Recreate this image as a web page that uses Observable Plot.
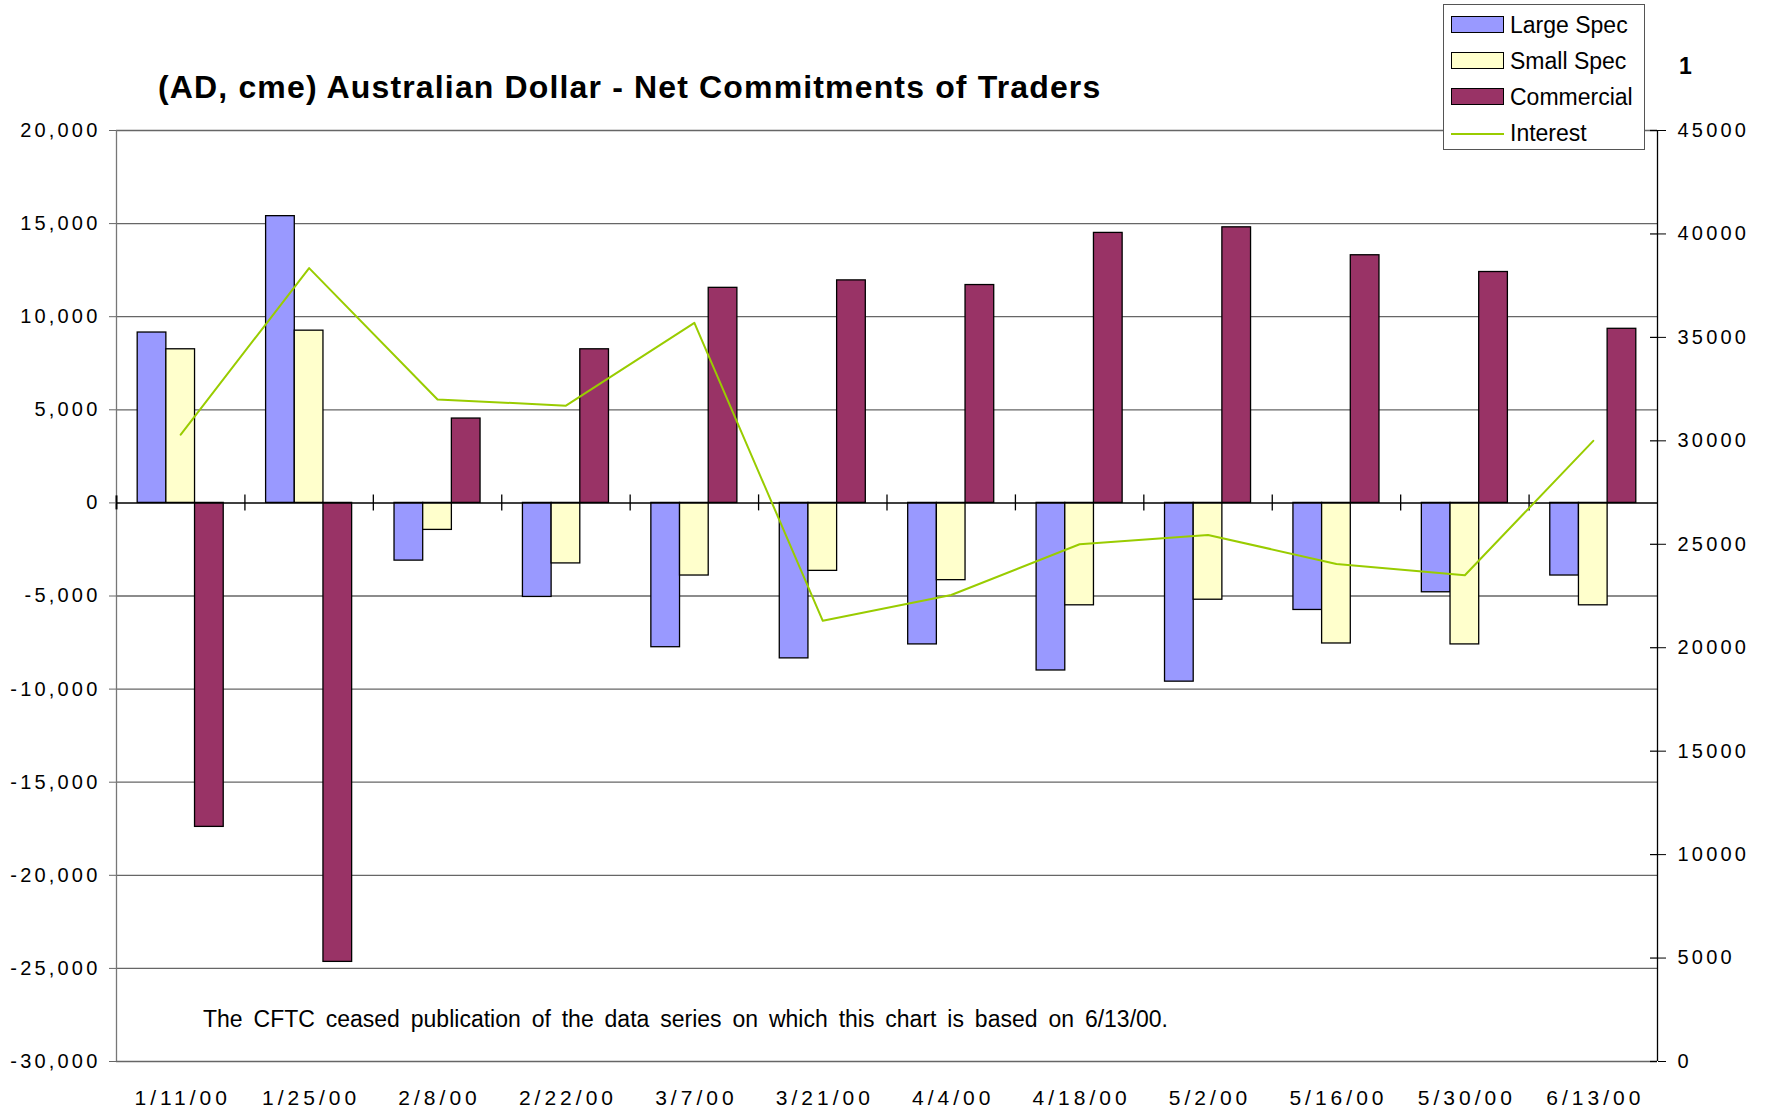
<!DOCTYPE html>
<html>
<head>
<meta charset="utf-8">
<script src="https://cdn.jsdelivr.net/npm/d3@7"></script>
<script src="https://cdn.jsdelivr.net/npm/@observablehq/plot@0.6"></script>
<style>
  html, body { margin: 0; padding: 0; background: #fff; }
  #wrap { position: relative; width: 1771px; height: 1114px; overflow: hidden; background: #fff; font-family: "Liberation Sans", Arial, sans-serif; }
  #wrap svg { position: absolute; left: 0; top: 0; }
  .title { position: absolute; left: 158px; top: 71px; font-size: 32px; line-height: 32px; font-weight: bold; letter-spacing: 1.15px; white-space: nowrap; color: #000; }
  .pagenum { position: absolute; left: 1679px; top: 55px; font-size: 23px; line-height: 23px; font-weight: bold; color: #000; }
  .note { position: absolute; left: 203px; top: 1008px; font-size: 23px; line-height: 23px; word-spacing: 4.5px; white-space: nowrap; color: #000; }
  .legend { position: absolute; left: 1443px; top: 4px; width: 200px; height: 144px; border: 1px solid #555; background: #fff; }
  .legend .row { position: absolute; left: 0; height: 23px; width: 200px; }
  .legend .sw { position: absolute; left: 7px; width: 51px; height: 15px; border: 1px solid #000; }
  .legend .ln { position: absolute; left: 7px; width: 53px; height: 0; border-top: 2px solid #99CC00; }
  .legend .lab { position: absolute; left: 66px; top: 0; font-size: 23px; line-height: 23px; white-space: nowrap; color: #000; }
  g[aria-label="y-axis tick label"] { letter-spacing: 3.2px; }
  g[aria-label="x-axis tick label"] { letter-spacing: 4px; }
</style>
</head>
<body>
<div id="wrap"></div>
<script>
// ---- data ----
const dates = ["1/11/00","1/25/00","2/8/00","2/22/00","3/7/00","3/21/00","4/4/00","4/18/00","5/2/00","5/16/00","5/30/00","6/13/00"];
const seriesNames = ["Large Spec", "Small Spec", "Commercial"];
const largeSpec  = [9150, 15400, -3100, -5050, -7750, -8350, -7600, -9000, -9600, -5750, -4800, -3900];
const smallSpec  = [8250, 9250, -1450, -3250, -3900, -3650, -4150, -5500, -5200, -7550, -7600, -5500];
const commercial = [-17400, -24650, 4530, 8250, 11550, 11950, 11700, 14500, 14800, 13300, 12400, 9350];
const interest   = [30300, 38350, 32000, 31700, 35700, 21300, 22550, 25000, 25450, 24050, 23500, 30000];
const leftTicks  = [-30000, -25000, -20000, -15000, -10000, -5000, 0, 5000, 10000, 15000, 20000];
const rightTicks = [0, 5000, 10000, 15000, 20000, 25000, 30000, 35000, 40000, 45000];

// ---- styles ----
const seriesColors = ["#9999FF", "#FFFFCC", "#993366"];
const lineColor = "#99CC00";
const groupGap = 0.165;   // fraction of a category left empty on each side
const barFrac = 0.2233;   // fraction of a category per bar

// left scale [-30000, 20000] <-> right scale [0, 45000]
const L0 = -30000, L1 = 20000, R1 = 45000;
const toLeft = v => L0 + v * (L1 - L0) / R1;
const fromLeft = v => (v - L0) * R1 / (L1 - L0);

const seriesValues = [largeSpec, smallSpec, commercial];
const bars = [];
dates.forEach((d, i) => seriesNames.forEach((s, j) => bars.push({i, j, date: d, series: s, value: seriesValues[j][i]})));
const interestRows = dates.map((d, i) => ({i, date: d, value: interest[i]}));
const boundaries = d3.range(1, dates.length).map(i => i - 0.5);
const fmt = v => Math.round(v).toLocaleString("en-US");

const chart = Plot.plot({
  width: 1771,
  height: 1114,
  marginTop: 130,
  marginBottom: 53,
  marginLeft: 116,
  marginRight: 114,
  style: {fontFamily: "'Liberation Sans', Arial, sans-serif", background: "transparent", color: "#000"},
  x: {type: "linear", domain: [-0.5, dates.length - 0.5], axis: null},
  y: {domain: [L0, L1], axis: null},
  color: {domain: seriesNames, range: seriesColors},
  marks: [
    Plot.ruleY(leftTicks.filter(t => t !== 0), {stroke: "#666", strokeWidth: 1.3}),
    Plot.ruleX([-0.5], {stroke: "#777", strokeWidth: 1.3}),
    Plot.ruleX([dates.length - 0.5], {stroke: "#000", strokeWidth: 1.3}),
    Plot.rectY(bars, {
      x1: d => d.i - 0.5 + groupGap + d.j * barFrac,
      x2: d => d.i - 0.5 + groupGap + (d.j + 1) * barFrac,
      y1: 0,
      y2: "value",
      fill: "series",
      stroke: "#000",
      strokeWidth: 1.3
    }),
    Plot.ruleY([0], {stroke: "#000", strokeWidth: 1.5}),
    Plot.ruleX(boundaries, {y1: 0, y2: 0, insetTop: -8, insetBottom: -8, stroke: "#000", strokeWidth: 1.3}),
    Plot.ruleX([-0.5], {y1: 0, y2: 0, insetTop: -7, insetBottom: -7, stroke: "#000", strokeWidth: 2}),
    Plot.line(interestRows, {x: "i", y: d => toLeft(d.value), stroke: lineColor, strokeWidth: 2}),
    Plot.axisY({anchor: "left", ticks: leftTicks, tickFormat: fmt, tickSize: 7, tickPadding: 9, fontSize: 20, label: null, stroke: "#666"}),
    Plot.axisY({anchor: "right", ticks: rightTicks.map(toLeft), tickFormat: v => String(Math.round(fromLeft(v))), tickSize: 8, tickPadding: 12, fontSize: 20, label: null}),
    Plot.ruleY(rightTicks.map(toLeft), {x1: dates.length - 0.5, x2: dates.length - 0.5, insetLeft: -7, stroke: "#000", strokeWidth: 1.2}),
    Plot.axisX({anchor: "bottom", ticks: d3.range(dates.length), tickFormat: i => dates[i], tickSize: 0, tickPadding: 29, fontSize: 21, dx: 2, label: null})
  ]
});

const wrap = document.getElementById("wrap");
wrap.appendChild(chart);

const title = document.createElement("div");
title.className = "title";
title.textContent = "(AD, cme) Australian Dollar - Net Commitments of Traders";
wrap.appendChild(title);

const pg = document.createElement("div");
pg.className = "pagenum";
pg.textContent = "1";
wrap.appendChild(pg);

const note = document.createElement("div");
note.className = "note";
note.textContent = "The CFTC ceased publication of the data series on which this chart is based on 6/13/00.";
wrap.appendChild(note);

const legend = document.createElement("div");
legend.className = "legend";
const legendItems = seriesNames.map((s, j) => ({label: s, color: seriesColors[j], kind: "bar"}))
  .concat([{label: "Interest", color: lineColor, kind: "line"}]);
const rowTops = [9, 45, 81, 117];
legendItems.forEach((it, k) => {
  const row = document.createElement("div");
  row.className = "row";
  row.style.top = rowTops[k] + "px";
  const sw = document.createElement("div");
  if (it.kind === "bar") {
    sw.className = "sw";
    sw.style.top = "2px";
    sw.style.background = it.color;
  } else {
    sw.className = "ln";
    sw.style.top = "11px";
    sw.style.borderTopColor = it.color;
  }
  row.appendChild(sw);
  const lab = document.createElement("div");
  lab.className = "lab";
  lab.textContent = it.label;
  row.appendChild(lab);
  legend.appendChild(row);
});
wrap.appendChild(legend);
</script>
</body>
</html>
